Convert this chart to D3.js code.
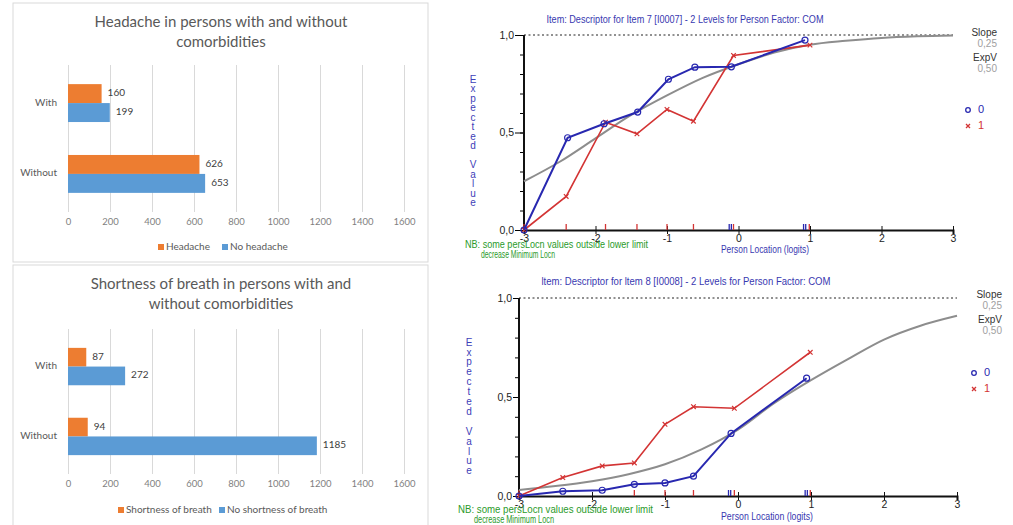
<!DOCTYPE html>
<html>
<head>
<meta charset="utf-8">
<script src="https://cdn.jsdelivr.net/npm/d3@7"></script>
<style>
  body { margin: 0; background: #fff; }
  svg { display: block; }
</style>
</head>
<body>
<div id="chart"></div>
<script>
// ---- Datos: barras (izquierda) ----
const barCategories = ["With", "Without"];
const headacheYes = [160, 626];
const headacheNo = [199, 653];
const breathYes = [87, 94];
const breathNo = [272, 1185];
const barTicks = [0, 200, 400, 600, 800, 1000, 1200, 1400, 1600];

// ---- Datos: curvas ICC (derecha) ----
const locTicks = [-3, -2, -1, 0, 1, 2, 3];
const valueLabels = [0, 0.5, 1];
const valueMinor = [0, 0.1, 0.2, 0.3, 0.4, 0.5, 0.6, 0.7, 0.8, 0.9, 1];

const curveLocations = [-3, -2.5, -2, -1.5, -1, -0.5, 0, 0.5, 1, 1.5, 2, 2.5, 3];
const item7Expected = [0.25, 0.35, 0.47, 0.59, 0.69, 0.78, 0.85, 0.91, 0.95, 0.97, 0.985, 0.993, 0.997];
const item8Expected = [0.03, 0.05, 0.075, 0.11, 0.16, 0.235, 0.335, 0.47, 0.585, 0.69, 0.79, 0.86, 0.91];

const item7Group0Loc = [-3, -2.39, -1.88, -1.41, -0.98, -0.61, -0.10, 0.93];
const item7Group0Obs = [0, 0.473, 0.545, 0.605, 0.773, 0.835, 0.837, 0.974];
const item7Group1Loc = [-3, -2.41, -1.86, -1.42, -1.0, -0.63, -0.07, 1.0];
const item7Group1Obs = [0, 0.172, 0.553, 0.493, 0.618, 0.558, 0.895, 0.948];

const item8Group0Loc = [-3, -2.40, -1.86, -1.42, -1.0, -0.61, -0.095, 0.94];
const item8Group0Obs = [0, 0.024, 0.029, 0.059, 0.066, 0.10, 0.316, 0.595];
const item8Group1Loc = [-3, -2.40, -1.86, -1.42, -1.0, -0.61, -0.05, 0.99];
const item8Group1Obs = [0, 0.093, 0.152, 0.167, 0.362, 0.451, 0.443, 0.726];

// marcas de intervalos de clase sobre el eje x
const item7RedTicks = [-3, -2.41, -1.86, -1.42, -1.0, -0.63, -0.07, 0.99];
const item7BlueTicks = [-0.13, -0.10, 0.91, 0.94];
const item8RedTicks = [-3, -1.42, -1.0, -0.61, -0.05, 0.99];
const item8BlueTicks = [-0.13, -0.10, 0.92, 0.95];

const svg = d3.select("#chart")
    .append("svg")
    .attr("width", 1013)
    .attr("height", 525);

const excelFont = "Lato, 'Open Sans', sans-serif";
const rummFont = "'Liberation Sans', Arial, sans-serif";

// ---- Gráfico de barras estilo Excel ----
function barPanel(p) {
    const g = svg.append("g");

    g.append("rect")
        .attr("x", 13).attr("y", p.boxTop)
        .attr("width", 415).attr("height", p.boxHeight)
        .attr("fill", "#fff")
        .attr("stroke", "#d9d9d9");

    p.title.forEach((t, i) => {
        g.append("text")
            .attr("x", 221)
            .attr("y", p.titleY + i * 20)
            .attr("text-anchor", "middle")
            .attr("dominant-baseline", "middle")
            .style("font-family", excelFont)
            .style("font-size", "15px")
            .attr("fill", "#595959")
            .text(t);
    });

    const x = d3.scaleLinear().domain([0, 1600]).range([68, 404]);
    const y = d3.scaleBand()
        .domain(barCategories)
        .range([p.plotTop, p.plotBottom])
        .paddingInner(0.465)
        .paddingOuter(0.27);
    const ySub = d3.scaleBand().domain([0, 1]).range([0, y.bandwidth()]);

    // rejilla vertical + etiquetas
    g.append("g")
        .attr("transform", `translate(0,${p.plotBottom})`)
        .call(d3.axisBottom(x).tickValues(barTicks).tickSize(-(p.plotBottom - p.plotTop)).tickPadding(6).tickFormat(d3.format("d")))
        .call(a => a.select(".domain").remove())
        .call(a => a.selectAll("line").attr("stroke", "#d9d9d9"))
        .call(a => a.selectAll("text")
            .attr("fill", "#7f7f7f")
            .style("font-family", excelFont)
            .style("font-size", "9.5px"));

    const series = [
        { name: p.names[0], values: p.yes, color: "#ED7D31" },
        { name: p.names[1], values: p.no, color: "#5B9BD5" }
    ];

    series.forEach((s, si) => {
        g.selectAll(null)
            .data(barCategories)
            .enter()
            .append("rect")
            .attr("x", x(0))
            .attr("y", d => y(d) + ySub(si))
            .attr("width", (d, i) => x(s.values[i]) - x(0))
            .attr("height", ySub.bandwidth())
            .attr("fill", s.color);

        g.selectAll(null)
            .data(barCategories)
            .enter()
            .append("text")
            .attr("x", (d, i) => x(s.values[i]) + 6)
            .attr("y", d => y(d) + ySub(si) + ySub.bandwidth() / 2)
            .attr("dominant-baseline", "middle")
            .style("font-family", excelFont)
            .style("font-size", "10px")
            .attr("fill", "#404040")
            .text((d, i) => s.values[i]);
    });

    // categorías
    g.selectAll(null)
        .data(barCategories)
        .enter()
        .append("text")
        .attr("x", 57)
        .attr("y", d => y(d) + y.bandwidth() / 2)
        .attr("text-anchor", "end")
        .attr("dominant-baseline", "middle")
        .style("font-family", excelFont)
        .style("font-size", "10px")
        .attr("fill", "#595959")
        .text(d => d);

    // leyenda
    series.forEach((s, i) => {
        g.append("rect")
            .attr("x", p.legendX[i]).attr("y", p.legendY - 3)
            .attr("width", 6).attr("height", 6)
            .attr("fill", s.color);
        g.append("text")
            .attr("x", p.legendX[i] + 8)
            .attr("y", p.legendY)
            .attr("dominant-baseline", "middle")
            .style("font-family", excelFont)
            .style("font-size", "10px")
            .attr("fill", "#595959")
            .text(s.name);
    });
}

barPanel({
    boxTop: 3, boxHeight: 259,
    title: ["Headache in persons with and without", "comorbidities"],
    titleY: 23,
    plotTop: 65, plotBottom: 212,
    yes: headacheYes, no: headacheNo,
    names: ["Headache", "No headache"],
    legendX: [158, 222], legendY: 247
});

barPanel({
    boxTop: 265, boxHeight: 262,
    title: ["Shortness of breath in persons with and", "without comorbidities"],
    titleY: 285,
    plotTop: 329, plotBottom: 474,
    yes: breathYes, no: breathNo,
    names: ["Shortness of breath", "No shortness of breath"],
    legendX: [118, 219], legendY: 510
});

// ---- Curva característica del ítem (estilo RUMM) ----
function crossPath(cx, cy, r) {
    return `M${cx - r},${cy - r}L${cx + r},${cy + r}M${cx - r},${cy + r}L${cx + r},${cy - r}`;
}

// texto estrecho: se ajusta al ancho medido en la imagen
function narrowText(g, x, y, txt, width, size, color, anchor) {
    return g.append("text")
        .attr("x", x).attr("y", y)
        .attr("text-anchor", anchor || "start")
        .attr("dominant-baseline", "middle")
        .attr("textLength", width)
        .attr("lengthAdjust", "spacingAndGlyphs")
        .style("font-family", rummFont)
        .style("font-size", size + "px")
        .attr("fill", color)
        .text(txt);
}

function iccPanel(p) {
    const g = svg.append("g");
    const x = d3.scaleLinear().domain([-3, 3]).range(p.xRange);
    const y = d3.scaleLinear().domain([0, 1]).range(p.yRange);
    const blue = "#2828b0", red = "#d33434", gray = "#8d8d8d";
    const comma = d => d.toFixed(1).replace(".", ",");

    narrowText(g, p.titleX, p.titleY, p.title, p.titleWidth, 10, "#3838b0", "middle");

    // línea punteada en 1,0
    g.append("line")
        .attr("x1", x(-3)).attr("x2", x(3))
        .attr("y1", y(1)).attr("y2", y(1))
        .attr("stroke", "#222")
        .attr("stroke-dasharray", "2,2.5");

    // eje y: marcas menores y etiquetas
    g.append("g")
        .attr("transform", `translate(${x(-3)},0)`)
        .call(d3.axisLeft(y).tickValues(valueMinor).tickSize(4).tickFormat(""))
        .call(a => a.select(".domain").remove());
    g.append("g")
        .attr("transform", `translate(${x(-3)},0)`)
        .call(d3.axisLeft(y).tickValues(valueLabels).tickSize(p.majorTick).tickPadding(1).tickFormat(comma))
        .call(a => a.select(".domain").remove())
        .call(a => a.selectAll("text")
            .attr("fill", "#222")
            .style("font-family", rummFont)
            .style("font-size", "10.5px"));
    g.append("line")
        .attr("x1", x(-3)).attr("x2", x(-3))
        .attr("y1", y(1)).attr("y2", y(0))
        .attr("stroke", "#111").attr("stroke-width", 2);

    // eje x
    g.append("g")
        .attr("transform", `translate(0,${y(0)})`)
        .call(d3.axisBottom(x).tickValues(locTicks).tickSize(4).tickPadding(1).tickFormat(d => String(d)))
        .call(a => a.select(".domain").attr("stroke-width", 2).attr("stroke", "#111"))
        .call(a => a.selectAll(".tick line").attr("y1", -4).attr("stroke", "#111"))
        .call(a => a.selectAll("text")
            .attr("fill", "#222")
            .style("font-family", rummFont)
            .style("font-size", "10.5px"));

    // marcas de intervalos de clase
    [[p.redTicks, red], [p.blueTicks, blue]].forEach(([ticks, color]) => {
        g.selectAll(null)
            .data(ticks)
            .enter()
            .append("line")
            .attr("x1", d => x(d)).attr("x2", d => x(d))
            .attr("y1", y(0) - 6).attr("y2", y(0))
            .attr("stroke", color)
            .attr("stroke-width", 1.3);
    });

    // curva esperada
    const curve = curveLocations.map((d, i) => [d, p.expected[i]]);
    g.append("path")
        .datum(curve)
        .attr("fill", "none")
        .attr("stroke", gray)
        .attr("stroke-width", 2)
        .attr("d", d3.line().x(d => x(d[0])).y(d => y(d[1])).curve(d3.curveMonotoneX));

    // grupos observados
    const lineGen = d3.line().x(d => x(d[0])).y(d => y(d[1]));
    const g1 = p.loc1.map((d, i) => [d, p.obs1[i]]);
    const g0 = p.loc0.map((d, i) => [d, p.obs0[i]]);

    g.append("path").datum(g1)
        .attr("fill", "none").attr("stroke", red).attr("stroke-width", 1.6)
        .attr("d", lineGen);
    g.selectAll(null).data(g1).enter().append("path")
        .attr("d", d => crossPath(x(d[0]), y(d[1]), 2.3))
        .attr("stroke", red).attr("stroke-width", 1.2);

    g.append("path").datum(g0)
        .attr("fill", "none").attr("stroke", blue).attr("stroke-width", 2)
        .attr("d", lineGen);
    g.selectAll(null).data(g0).enter().append("circle")
        .attr("cx", d => x(d[0])).attr("cy", d => y(d[1]))
        .attr("r", 3)
        .attr("fill", "none")
        .attr("stroke", blue).attr("stroke-width", 1.2);

    // títulos de ejes
    narrowText(g, p.xLabelX, p.xLabelY, "Person Location (logits)", p.xLabelWidth, 10, "#3838b0");

    g.selectAll(null)
        .data("Expected Value".split(""))
        .enter()
        .append("text")
        .attr("x", p.yLabelX)
        .attr("y", (d, i) => p.yLabelTop + i * p.yLabelStep)
        .attr("text-anchor", "middle")
        .attr("dominant-baseline", "middle")
        .style("font-family", rummFont)
        .style("font-size", "10px")
        .attr("fill", "#4040b8")
        .text(d => d);

    // nota en verde
    narrowText(g, p.noteX, p.noteY, "NB: some persLocn values outside lower limit", p.noteWidth[0], 10.5, "#2a9a2a");
    narrowText(g, p.noteX + 16, p.noteY + 10, "decrease Minimum Locn", p.noteWidth[1], 10, "#2a9a2a");

    // Slope / ExpV
    const side = [["Slope", "#333"], ["0,25", "#a0a0a0"], ["ExpV", "#333"], ["0,50", "#a0a0a0"]];
    side.forEach((s, i) => {
        g.append("text")
            .attr("x", p.sideX).attr("y", p.sideY[i])
            .attr("text-anchor", "end")
            .attr("dominant-baseline", "middle")
            .style("font-family", rummFont)
            .style("font-size", "10px")
            .attr("fill", s[1])
            .text(s[0]);
    });

    // leyenda de grupos
    g.append("circle")
        .attr("cx", p.legX).attr("cy", p.legY)
        .attr("r", 2.3).attr("fill", "none")
        .attr("stroke", blue).attr("stroke-width", 1.3);
    g.append("text")
        .attr("x", p.legX + 10).attr("y", p.legY)
        .attr("dominant-baseline", "middle")
        .style("font-family", rummFont).style("font-size", "11px")
        .attr("fill", blue).text("0");
    g.append("path")
        .attr("d", crossPath(p.legX, p.legY + 16, 2))
        .attr("stroke", red).attr("stroke-width", 1.3);
    g.append("text")
        .attr("x", p.legX + 10).attr("y", p.legY + 16)
        .attr("dominant-baseline", "middle")
        .style("font-family", rummFont).style("font-size", "11px")
        .attr("fill", red).text("1");
}

iccPanel({
    xRange: [524, 953], yRange: [230, 35],
    majorTick: 9,
    title: "Item: Descriptor for Item 7 [I0007] - 2 Levels for Person Factor: COM",
    titleX: 685, titleY: 20, titleWidth: 277,
    expected: item7Expected,
    loc0: item7Group0Loc, obs0: item7Group0Obs,
    loc1: item7Group1Loc, obs1: item7Group1Obs,
    redTicks: item7RedTicks, blueTicks: item7BlueTicks,
    xLabelX: 721, xLabelY: 250, xLabelWidth: 88,
    yLabelX: 473, yLabelTop: 80, yLabelStep: 9.5,
    noteX: 465, noteY: 245, noteWidth: [183, 74],
    sideX: 997, sideY: [33, 44, 58, 69],
    legX: 968, legY: 110
});

iccPanel({
    xRange: [519, 957], yRange: [496, 298],
    majorTick: 6,
    title: "ltem: Descriptor for ltem 8 [I0008] - 2 Levels for Person Factor: COM",
    titleX: 686, titleY: 282, titleWidth: 289,
    expected: item8Expected,
    loc0: item8Group0Loc, obs0: item8Group0Obs,
    loc1: item8Group1Loc, obs1: item8Group1Obs,
    redTicks: item8RedTicks, blueTicks: item8BlueTicks,
    xLabelX: 721, xLabelY: 517, xLabelWidth: 92,
    yLabelX: 469, yLabelTop: 343, yLabelStep: 9.9,
    noteX: 458, noteY: 510, noteWidth: [195, 80],
    sideX: 1002, sideY: [295, 306, 320, 331],
    legX: 974, legY: 373
});
</script>
</body>
</html>
